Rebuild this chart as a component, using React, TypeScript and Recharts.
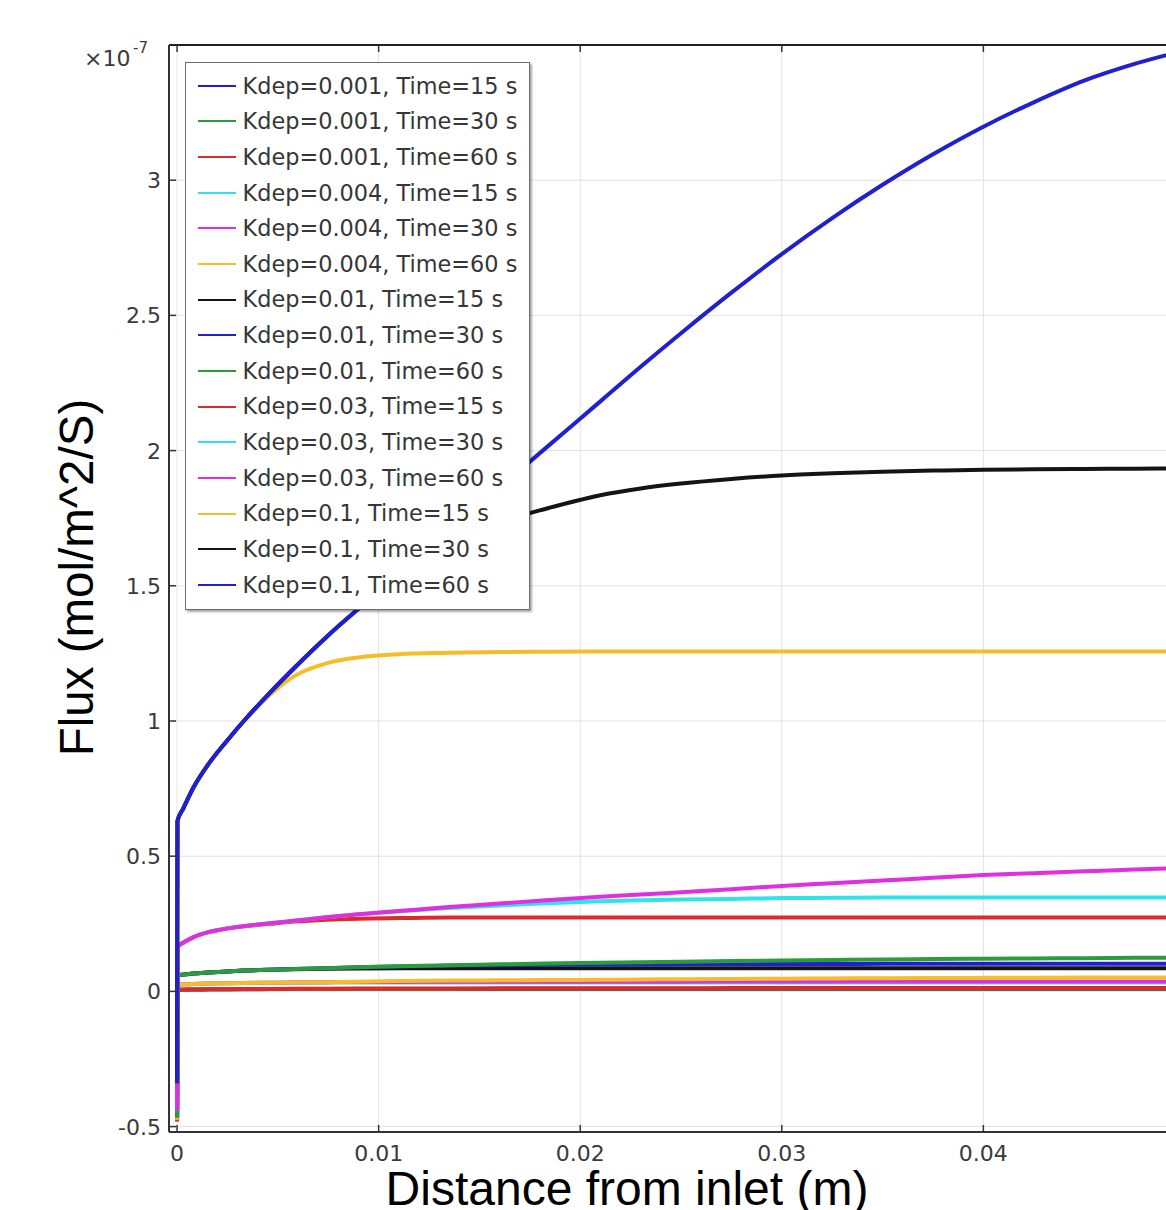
import React from 'react';
import { LineChart, Line, XAxis, YAxis, CartesianGrid, Legend } from 'recharts';

// Distance from inlet (m)
const distance = [0, 0.00002, 0.0003, 0.0008, 0.0016, 0.0025, 0.0033, 0.0046, 0.0058, 0.0074, 0.009, 0.011, 0.0135, 0.016, 0.0183, 0.021, 0.023, 0.025, 0.0275, 0.03, 0.0325, 0.035, 0.0375, 0.04, 0.0425, 0.045, 0.0475, 0.05];

// Flux values (x 1e-7 mol/m^2/s)
const kdep0001_t15 = [-0.48, 0.006, 0.0065, 0.007, 0.0075, 0.008, 0.008, 0.0085, 0.0085, 0.0085, 0.0085, 0.0085, 0.0085, 0.0085, 0.0085, 0.0085, 0.0085, 0.0085, 0.0085, 0.0085, 0.0085, 0.0085, 0.0085, 0.0085, 0.0085, 0.0085, 0.0085, 0.0085];
const kdep0001_t30 = [-0.48, 0.006, 0.0065, 0.007, 0.0075, 0.008, 0.0085, 0.0088, 0.009, 0.009, 0.0092, 0.0093, 0.0093, 0.0094, 0.0094, 0.0094, 0.0095, 0.0095, 0.0095, 0.0095, 0.0095, 0.0095, 0.0095, 0.0095, 0.0095, 0.0095, 0.0095, 0.0095];
const kdep0001_t60 = [-0.48, 0.006, 0.0065, 0.007, 0.0075, 0.008, 0.0085, 0.009, 0.0095, 0.01, 0.0105, 0.011, 0.011, 0.0112, 0.0114, 0.0116, 0.0118, 0.012, 0.0121, 0.0122, 0.0123, 0.0125, 0.0126, 0.0127, 0.0127, 0.0128, 0.0129, 0.013];
const kdep0004_t15 = [-0.475, 0.024, 0.026, 0.027, 0.029, 0.03, 0.031, 0.032, 0.033, 0.033, 0.033, 0.033, 0.033, 0.033, 0.033, 0.033, 0.033, 0.033, 0.033, 0.033, 0.033, 0.033, 0.033, 0.033, 0.033, 0.033, 0.033, 0.033];
const kdep0004_t30 = [-0.475, 0.024, 0.026, 0.027, 0.029, 0.03, 0.031, 0.032, 0.033, 0.034, 0.035, 0.035, 0.036, 0.036, 0.036, 0.036, 0.036, 0.036, 0.037, 0.037, 0.037, 0.037, 0.037, 0.037, 0.037, 0.037, 0.037, 0.037];
const kdep0004_t60 = [-0.475, 0.024, 0.026, 0.027, 0.029, 0.03, 0.031, 0.032, 0.033, 0.034, 0.036, 0.038, 0.04, 0.041, 0.042, 0.043, 0.044, 0.045, 0.046, 0.047, 0.048, 0.049, 0.0495, 0.05, 0.0505, 0.051, 0.0515, 0.052];
const kdep001_t15 = [-0.465, 0.058, 0.062, 0.066, 0.07, 0.074, 0.077, 0.08, 0.082, 0.084, 0.085, 0.086, 0.086, 0.086, 0.086, 0.086, 0.086, 0.086, 0.086, 0.086, 0.086, 0.086, 0.086, 0.086, 0.086, 0.086, 0.086, 0.086];
const kdep001_t30 = [-0.465, 0.058, 0.062, 0.066, 0.07, 0.074, 0.077, 0.08, 0.083, 0.086, 0.089, 0.092, 0.095, 0.097, 0.099, 0.1, 0.1, 0.101, 0.101, 0.101, 0.101, 0.102, 0.102, 0.102, 0.102, 0.102, 0.102, 0.102];
const kdep001_t60 = [-0.465, 0.058, 0.062, 0.066, 0.07, 0.074, 0.077, 0.08, 0.083, 0.086, 0.089, 0.093, 0.097, 0.1, 0.103, 0.106, 0.108, 0.11, 0.112, 0.114, 0.116, 0.118, 0.1195, 0.121, 0.122, 0.123, 0.124, 0.125];
const kdep003_t15 = [-0.44, 0.165, 0.18, 0.2, 0.22, 0.233, 0.241, 0.25, 0.258, 0.265, 0.269, 0.271, 0.273, 0.273, 0.273, 0.273, 0.273, 0.273, 0.273, 0.273, 0.273, 0.273, 0.273, 0.273, 0.273, 0.273, 0.273, 0.273];
const kdep003_t30 = [-0.44, 0.165, 0.18, 0.2, 0.22, 0.233, 0.241, 0.252, 0.261, 0.274, 0.285, 0.296, 0.308, 0.318, 0.326, 0.333, 0.337, 0.34, 0.342, 0.345, 0.346, 0.347, 0.347, 0.347, 0.347, 0.347, 0.347, 0.347];
const kdep003_t60 = [-0.44, 0.165, 0.18, 0.2, 0.22, 0.233, 0.241, 0.252, 0.261, 0.274, 0.285, 0.297, 0.312, 0.325, 0.337, 0.35, 0.358, 0.367, 0.378, 0.39, 0.4, 0.41, 0.42, 0.43, 0.437, 0.444, 0.451, 0.457];
const kdep01_t15 = [-0.34, 0.63, 0.675, 0.752, 0.845, 0.929, 0.999, 1.096, 1.165, 1.213, 1.235, 1.247, 1.252, 1.255, 1.256, 1.257, 1.257, 1.257, 1.257, 1.257, 1.257, 1.257, 1.257, 1.257, 1.257, 1.257, 1.257, 1.257];
const kdep01_t30 = [-0.34, 0.63, 0.675, 0.752, 0.845, 0.929, 0.999, 1.104, 1.195, 1.31, 1.415, 1.535, 1.66, 1.735, 1.785, 1.835, 1.86, 1.878, 1.895, 1.908, 1.916, 1.922, 1.926, 1.929, 1.931, 1.932, 1.933, 1.934];
const kdep01_t60 = [-0.34, 0.63, 0.675, 0.752, 0.845, 0.929, 0.999, 1.104, 1.195, 1.31, 1.415, 1.543, 1.703, 1.863, 2.01, 2.182, 2.31, 2.434, 2.584, 2.727, 2.86, 2.983, 3.096, 3.198, 3.288, 3.368, 3.43, 3.48];

const xTicks = [0, 0.01, 0.02, 0.03, 0.04];
const yTicks = [-0.5, 0, 0.5, 1, 1.5, 2, 2.5, 3];

const BLUE = '#2020d0';
const GREEN = '#2a9d3a';
const RED = '#de2a2a';
const CYAN = '#2fe3ea';
const MAGENTA = '#e02ee0';
const YELLOW = '#f5bd2a';
const BLACK = '#141414';

const seriesList = [
  { key: 's1', name: 'Kdep=0.001, Time=15 s', color: BLUE, values: kdep0001_t15 },
  { key: 's2', name: 'Kdep=0.001, Time=30 s', color: GREEN, values: kdep0001_t30 },
  { key: 's3', name: 'Kdep=0.001, Time=60 s', color: RED, values: kdep0001_t60 },
  { key: 's4', name: 'Kdep=0.004, Time=15 s', color: CYAN, values: kdep0004_t15 },
  { key: 's5', name: 'Kdep=0.004, Time=30 s', color: MAGENTA, values: kdep0004_t30 },
  { key: 's6', name: 'Kdep=0.004, Time=60 s', color: YELLOW, values: kdep0004_t60 },
  { key: 's7', name: 'Kdep=0.01, Time=15 s', color: BLACK, values: kdep001_t15 },
  { key: 's8', name: 'Kdep=0.01, Time=30 s', color: BLUE, values: kdep001_t30 },
  { key: 's9', name: 'Kdep=0.01, Time=60 s', color: GREEN, values: kdep001_t60 },
  { key: 's10', name: 'Kdep=0.03, Time=15 s', color: RED, values: kdep003_t15 },
  { key: 's11', name: 'Kdep=0.03, Time=30 s', color: CYAN, values: kdep003_t30 },
  { key: 's12', name: 'Kdep=0.03, Time=60 s', color: MAGENTA, values: kdep003_t60 },
  { key: 's13', name: 'Kdep=0.1, Time=15 s', color: YELLOW, values: kdep01_t15 },
  { key: 's14', name: 'Kdep=0.1, Time=30 s', color: BLACK, values: kdep01_t30 },
  { key: 's15', name: 'Kdep=0.1, Time=60 s', color: BLUE, values: kdep01_t60 },
];

const data = distance.map((x, i) => {
  const row: any = { x };
  seriesList.forEach((s) => {
    row[s.key] = s.values[i];
  });
  return row;
});

const TICK_FONT = 'DejaVu Sans, Verdana, sans-serif';
const TITLE_FONT = 'Liberation Sans, Arial, sans-serif';

const YTick = (props: any) => {
  const { x, y, payload } = props;
  return (
    <g>
      <line x1={x + 8} y1={y} x2={x + 15} y2={y} stroke="#333" strokeWidth={1.5} />
      <text x={x} y={y} dy="0.36em" textAnchor="end" fontSize={22} fill="#3a3a3a" fontFamily={TICK_FONT}>
        {String(payload.value)}
      </text>
    </g>
  );
};

const XTick = (props: any) => {
  const { x, y, payload } = props;
  return (
    <g>
      <line x1={x} y1={y - 10} x2={x} y2={y - 17} stroke="#333" strokeWidth={1.5} />
      <text x={x} y={y + 19} textAnchor="middle" fontSize={22} fill="#3a3a3a" fontFamily={TICK_FONT}>
        {String(payload.value)}
      </text>
    </g>
  );
};

const TopTick = (props: any) => {
  const { x, y } = props;
  return <line x1={x} y1={y} x2={x} y2={y + 7} stroke="#333" strokeWidth={1.5} />;
};

const YTitle = (props: any) => {
  const vb = props.viewBox || { x: 81, y: 37, width: 80, height: 1087 };
  const cx = vb.x + 4;
  const cy = vb.y + vb.height / 2 - 11;
  return (
    <g>
      <text
        x={cx}
        y={cy}
        transform={`rotate(-90, ${cx}, ${cy})`}
        textAnchor="middle"
        fontSize={47.5}
        fill="#000"
        fontFamily={TITLE_FONT}
      >
        Flux (mol/m^2/S)
      </text>
      <text x={vb.x - 5} y={vb.y + 21} fontSize={22} fill="#3a3a3a" fontFamily={TICK_FONT}>
        ×10
      </text>
      <text x={vb.x + 44} y={vb.y + 8} fontSize={15} fill="#3a3a3a" fontFamily={TICK_FONT}>
        -7
      </text>
    </g>
  );
};

const XTitle = (props: any) => {
  const vb = props.viewBox || { x: 161, y: 1124, width: 1024, height: 78 };
  return (
    <text x={vb.x + 458} y={vb.y + 73} textAnchor="middle" fontSize={48} fill="#000" fontFamily={TITLE_FONT}>
      Distance from inlet (m)
    </text>
  );
};

const LegendBox = () => (
  <div
    style={{
      width: 345,
      height: 548,
      boxSizing: 'border-box',
      border: '1.5px solid #6e6e6e',
      boxShadow: '2px 2px 2px rgba(0,0,0,0.35)',
      background: '#fff',
      paddingTop: 5,
    }}
  >
    {seriesList.map((s) => (
      <div key={s.key} style={{ height: 35.65, display: 'flex', alignItems: 'center' }}>
        <svg width={38} height={6} style={{ marginLeft: 11.5, display: 'block', flex: 'none' }}>
          <line x1={0} y1={3} x2={38} y2={3} stroke={s.color} strokeWidth={2} />
        </svg>
        <span
          style={{
            marginLeft: 7,
            fontFamily: TICK_FONT,
            fontSize: 22.4,
            color: '#363636',
            whiteSpace: 'nowrap',
            lineHeight: 1,
          }}
        >
          {s.name}
        </span>
      </div>
    ))}
  </div>
);

export default function App() {
  return (
    <div style={{ position: 'absolute', left: 8, top: 8, width: 1158, height: 1202, overflow: 'hidden', background: '#fff' }}>
      <LineChart
        width={1200}
        height={1202}
        data={data}
        margin={{ top: 36, right: 15, bottom: 0, left: 81 }}
        style={{ fontFamily: TICK_FONT }}
      >
        <CartesianGrid stroke="#e2e2e2" strokeWidth={1} />
        <XAxis
          dataKey="x"
          type="number"
          domain={[-0.0004, 0.0504]}
          ticks={xTicks}
          interval={0}
          allowDataOverflow
          height={78}
          tickSize={0}
          tickMargin={10}
          tickLine={false}
          axisLine={{ stroke: '#333', strokeWidth: 2 }}
          tick={<XTick />}
          label={(p: any) => <XTitle {...p} />}
        />
        <XAxis
          xAxisId="top"
          orientation="top"
          dataKey="x"
          type="number"
          domain={[-0.0004, 0.0504]}
          ticks={xTicks}
          interval={0}
          allowDataOverflow
          height={1}
          tickSize={0}
          tickMargin={0}
          tickLine={false}
          axisLine={{ stroke: '#222', strokeWidth: 2 }}
          tick={<TopTick />}
        />
        <YAxis
          type="number"
          domain={[-0.52, 3.5]}
          ticks={yTicks}
          interval={0}
          allowDataOverflow
          width={80}
          tickSize={0}
          tickMargin={8}
          tickLine={false}
          axisLine={{ stroke: '#333', strokeWidth: 2 }}
          tick={<YTick />}
          label={(p: any) => <YTitle {...p} />}
        />
        <Legend
          layout="vertical"
          align="center"
          verticalAlign="middle"
          content={() => <LegendBox />}
          wrapperStyle={{ left: 177, top: 54, width: 349, height: 552, bottom: 'auto', right: 'auto', margin: 0 }}
        />
        {seriesList.map((s) => (
          <Line
            key={s.key}
            dataKey={s.key}
            name={s.name}
            type="monotoneX"
            stroke={s.color}
            strokeWidth={4}
            dot={false}
            activeDot={false}
            isAnimationActive={false}
          />
        ))}
      </LineChart>
    </div>
  );
}
